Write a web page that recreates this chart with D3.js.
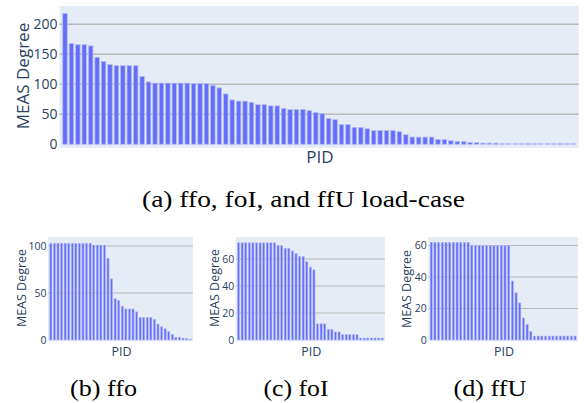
<!DOCTYPE html>
<html><head><meta charset="utf-8">
<script src="https://cdn.jsdelivr.net/npm/d3@7"></script>
<style>body{margin:0;background:#fff;} svg{display:block;}</style>
</head><body>
<svg id="c" width="584" height="403"></svg>
<script>
// ---- data ----
const allValues = [218,168,166,166,164,145,138,133,131,131,131,131,113,104,102,102,102,102,102,102,
  101,101,101,98,94,84,74,72,72,70,66,66,64,64,60,58,58,58,56,53,
  51,43,41,33,33,28,28,26,23,23,23,23,21,16,12,12,12,12,8,8,
  6,4.5,4.5,3,3,2,2,2,1,1,1,1,1,1,1,1,1,1,1,1];
const ffoValues = [103,103,103,103,103,103,103,103,103,103,103,103,101,101,101,101,
  87,65,44,42,36,33,33,33,30,24,24,24,24,22,17,14,12,9,6,3,3,2,1.5,1];
const foIValues = [72,72,72,72,72,72,72,72,72,72,72,70,70,68,68,66,64,62,62,58,54,52,
  12,12,12,8,8,6,6,4,4,4,4,4,1.5,1.5,1.5,1.5,1.5,1.5,1.5];
const ffUValues = [62,62,62,62,62,62,62,62,62,62,62,60,60,60,60,60,60,60,60,60,60,60,
  37.5,30,23.5,14,10,5.5,2.5,2.5,2.5,2.5,2.5,2.5,2.5,2.5,2.5,2.5,2.5,2.5];
const allTicks = [0,50,100,150,200];
const ffoTicks = [0,50,100];
const foITicks = [0,20,40,60];
const ffUTicks = [0,20,40,60];
const yTitle = "MEAS Degree";
const xTitle = "PID";
const captions = ["(a) ffo, foI, and ffU load-case","(b) ffo","(c) foI","(d) ffU"];

// ---- drawing ----
const svg = d3.select("#c");
const FONT = "\"Open Sans\", verdana, arial, sans-serif";
const SERIF = "\"Liberation Serif\", \"Times New Roman\", serif";
const TXT = "#2a3f5f";

function panel(values, ticks, L) {
  const g = svg.append("g");
  const x = d3.scaleBand().domain(d3.range(values.length))
    .range([L.x0, L.x1]).paddingInner(L.pad).paddingOuter(L.po);
  const y = d3.scaleLinear().domain([L.lo, L.hi]).range([L.y1, L.y0]);
  g.append("rect").attr("x", L.x0).attr("y", L.y0)
    .attr("width", L.x1 - L.x0).attr("height", L.y1 - L.y0).attr("fill", "#e5ecf6");
  g.selectAll("line.grid").data(ticks.filter(t => t > 0)).join("line")
    .attr("x1", L.x0).attr("x2", L.x1)
    .attr("y1", d => y(d)).attr("y2", d => y(d))
    .attr("stroke", "#b9b9b9").attr("stroke-width", L.gw);
  g.selectAll("rect.bar").data(values).join("rect")
    .attr("x", (d, i) => x(i)).attr("width", x.bandwidth())
    .attr("y", d => y(d)).attr("height", d => y(0) - y(d))
    .attr("fill", "#636efa").attr("stroke", "#b6bcf8").attr("stroke-width", L.sw);
  const ax = g.append("g").attr("transform", `translate(${L.x0},0)`)
    .call(d3.axisLeft(y).tickValues(ticks).tickSize(0).tickPadding(L.tp).tickFormat(d3.format("d")));
  ax.select(".domain").remove();
  ax.selectAll("text").attr("fill", TXT).style("font-family", FONT).style("font-size", L.tf + "px");
  g.append("text").attr("transform", `translate(${L.ytx},${L.yty}) rotate(-90)`)
    .attr("text-anchor", "middle").attr("fill", TXT)
    .style("font-family", FONT).style("font-size", L.ttf + "px").text(yTitle);
  g.append("text").attr("x", (L.x0 + L.x1) / 2 + 1).attr("y", L.pidY)
    .attr("text-anchor", "middle").attr("fill", TXT)
    .style("font-family", FONT).style("font-size", L.ttf + "px").text(xTitle);
  g.append("text").attr("x", L.cx).attr("y", L.cy).attr("text-anchor", "middle")
    .attr("fill", "#000").style("font-family", SERIF)
    .style("font-size", L.cf + "px")
    .attr("textLength", L.cw).attr("lengthAdjust", "spacingAndGlyphs")
    .text(L.cap);
}

panel(allValues, allTicks, {x0: 59.5, x1: 578.5, y0: 6, y1: 148, lo: -6.2, hi: 230.5,
  pad: 0.3, po: 0.5, gw: 1.4, sw: 0.8, tp: 2, tf: 14, ttf: 17,
  ytx: 29, yty: 76, pidY: 163, cx: 303.5, cy: 206.5, cf: 23, cw: 323, cap: captions[0]});
panel(ffoValues, ffoTicks, {x0: 48, x1: 193, y0: 237, y1: 341.5, lo: -1.6, hi: 109.6,
  pad: 0.4, po: 0.5, gw: 1.2, sw: 0.6, tp: 1.5, tf: 10.5, ttf: 12.5,
  ytx: 26, yty: 288, pidY: 355.5, cx: 103.5, cy: 395.5, cf: 23, cw: 67, cap: captions[1]});
panel(foIValues, foITicks, {x0: 235.7, x1: 385, y0: 237, y1: 341.5, lo: -1.1, hi: 76.3,
  pad: 0.4, po: 0.5, gw: 1.2, sw: 0.6, tp: 1.5, tf: 10.5, ttf: 12.5,
  ytx: 218.5, yty: 288, pidY: 355.5, cx: 296, cy: 395.5, cf: 23, cw: 65, cap: captions[2]});
panel(ffUValues, ffUTicks, {x0: 428.3, x1: 578, y0: 237, y1: 341.5, lo: -0.95, hi: 65.4,
  pad: 0.4, po: 0.5, gw: 1.2, sw: 0.6, tp: 1.5, tf: 10.5, ttf: 12.5,
  ytx: 411, yty: 289, pidY: 355.5, cx: 490, cy: 395.5, cf: 23, cw: 73, cap: captions[3]});
</script>
</body></html>
